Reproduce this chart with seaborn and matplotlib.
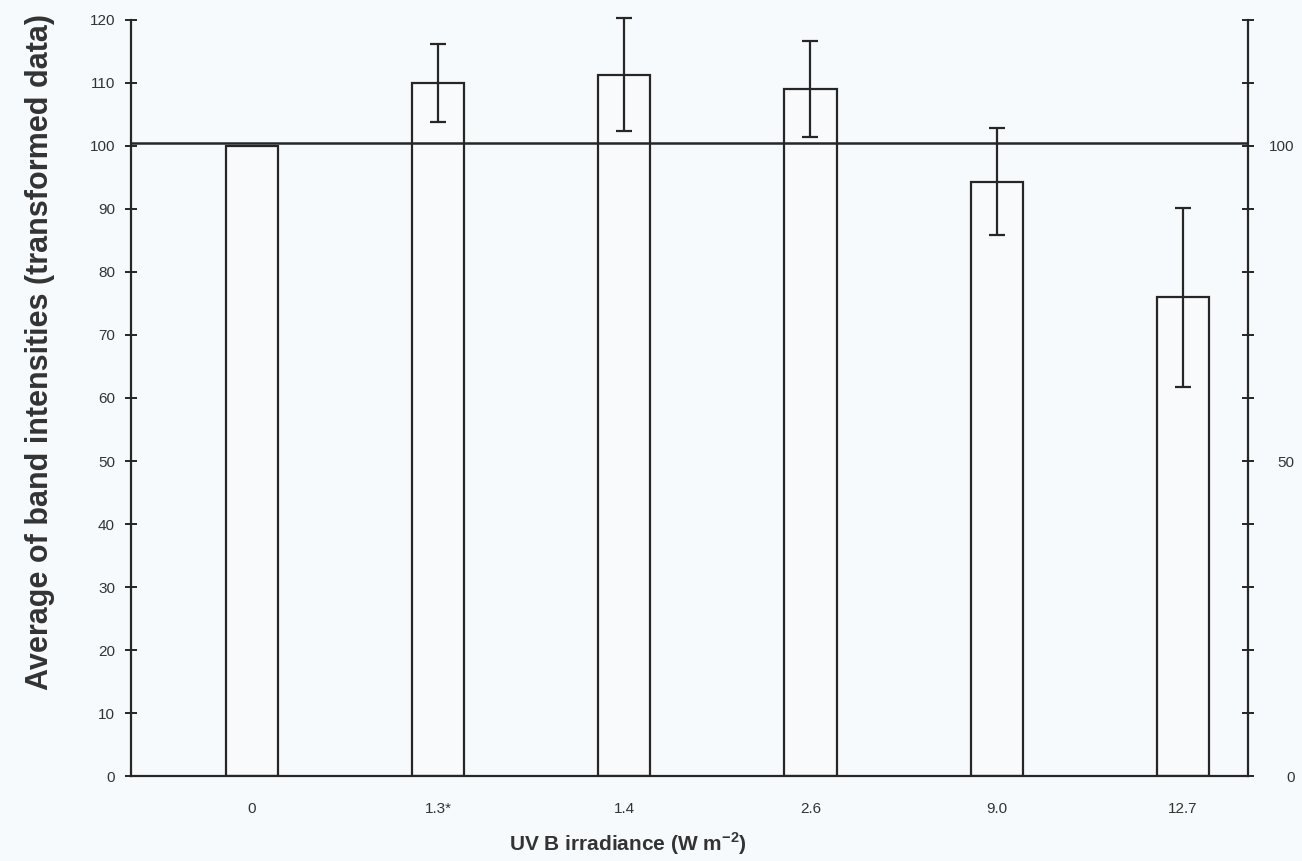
import numpy as np
import pandas as pd
import matplotlib
matplotlib.use('Agg')
import matplotlib.pyplot as plt
import seaborn as sns

# valores
categorias = ['0', '1.3*', '1.4', '2.6', '9.0', '12.7']
medias = [100.0, 110.0, 111.3, 109.0, 94.3, 76.0]
erros = [0.0, 6.2, 9.0, 7.6, 8.5, 14.2]
linha_ref = 100.4
ticks_esq = list(range(0, 121, 10))
ticks_dir = list(range(0, 121, 10))
labels_dir = ['0', '', '', '', '', '50', '', '', '', '', '100', '', '']

df = pd.DataFrame({'UV': categorias, 'Media': medias, 'Erro': erros})

sns.set_style('white')
plt.rcParams['font.family'] = ['Liberation Sans', 'DejaVu Sans']

fundo = '#f7fafc'
tinta = '#262626'

fig = plt.figure(figsize=(13.02, 8.61), dpi=100, facecolor=fundo)
ax = fig.add_axes([0.1006, 0.0987, 0.8579, 0.8781])
ax.set_facecolor(fundo)

sns.barplot(x='UV', y='Media', data=df, order=categorias, width=0.28,
            color=fundo, edgecolor=tinta, linewidth=1.6, errorbar=None, ax=ax)

# barras de erro (sem erro na barra de controle)
df_err = df[df['Erro'] > 0]
pos = [categorias.index(c) for c in df_err['UV']]
eb = ax.errorbar(pos, df_err['Media'], yerr=df_err['Erro'], fmt='none',
                 ecolor=tinta, elinewidth=1.6, capsize=6, capthick=1.6)
for art in eb.lines[1] + eb.lines[2]:
    art.set_clip_on(False)

ax.axhline(linha_ref, color=tinta, lw=1.8, zorder=5)

ax.set_xlim(-0.65, 5.35)
ax.set_ylim(0, 120)

# ticks do eixo x entre as categorias, rotulos nas barras
ax.set_xticks([i + 0.36 for i in range(5)])
ax.set_xticklabels([''] * 5)
ax.set_xticks(range(len(categorias)), categorias, minor=True)
ax.tick_params(axis='x', which='major', direction='inout', length=9, width=1.4, color=tinta)
ax.tick_params(axis='x', which='minor', length=0, pad=19, labelsize=11, labelcolor='#333333')

ax.set_yticks(ticks_esq)
ax.tick_params(axis='y', direction='inout', length=9, width=1.4, color=tinta,
               pad=7, labelsize=11, labelcolor='#333333')

ax.spines['top'].set_visible(False)
ax.spines['right'].set_visible(False)
for s in ['left', 'bottom']:
    ax.spines[s].set_color(tinta)
    ax.spines[s].set_linewidth(1.6)

ax2 = ax.twinx()
ax2.set_ylim(0, 120)
ax2.set_yticks(ticks_dir, labels_dir)
for lab in ax2.get_yticklabels():
    lab.set_horizontalalignment('right')
ax2.tick_params(axis='y', direction='inout', length=9, width=1.4, color=tinta,
                pad=29, labelsize=11, labelcolor='#333333')
for s in ['top', 'left', 'bottom']:
    ax2.spines[s].set_visible(False)
ax2.spines['right'].set_color(tinta)
ax2.spines['right'].set_linewidth(1.6)

ax.set_xlabel('UV B irradiance (W m$^{\\mathregular{-2}}$)', fontsize=15,
              fontweight='bold', color='#333333')
ax.xaxis.set_label_coords(0.445, -0.072)
ax.set_ylabel('Average of band intensities (transformed data)', fontsize=22,
              fontweight='bold', color='#333333')
ax.yaxis.set_label_coords(-0.068, 0.561)

fig.savefig('out.png', dpi=100, facecolor=fundo)
